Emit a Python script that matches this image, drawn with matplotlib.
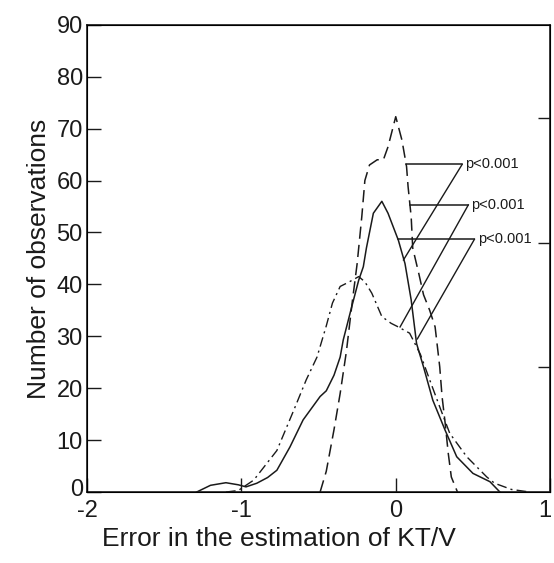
import numpy as np
import matplotlib
matplotlib.use('Agg')
import matplotlib.pyplot as plt
import matplotlib.transforms as mtransforms

plt.rcParams['font.family'] = ['Liberation Sans', 'DejaVu Sans']
plt.rcParams['axes.unicode_minus'] = False

# solid curve
solid_x = [-1.29, -1.20, -1.10, -1.02, -0.97, -0.90, -0.83, -0.77, -0.685, -0.60, -0.49, -0.45,
           -0.40, -0.36, -0.34, -0.285, -0.24, -0.21, -0.19, -0.145, -0.09, -0.05, 0.017, 0.06,
           0.10, 0.135, 0.18, 0.24, 0.32, 0.395, 0.50, 0.61, 0.675]
solid_y = [0, 1.3, 1.8, 1.4, 1.0, 1.7, 2.8, 4.2, 8.7, 13.9, 18.4, 19.5,
           22.5, 26, 29.3, 35.7, 40.8, 43.4, 47, 53.7, 56, 53.7, 48.5, 44,
           37, 28.6, 24.1, 17.7, 11.9, 6.8, 3.6, 2.0, 0]

# dashed curve
dash_x = [-0.49, -0.45, -0.40, -0.36, -0.32, -0.28, -0.25, -0.22, -0.20, -0.17, -0.12, -0.08,
          -0.05, 0.0, 0.04, 0.07, 0.08, 0.10, 0.11, 0.15, 0.18, 0.22, 0.255, 0.285, 0.30,
          0.32, 0.34, 0.36, 0.40]
dash_y = [0, 4, 12, 19, 27, 37, 44, 53, 60, 63, 64, 64,
          66.5, 72.3, 67.8, 62.7, 58.8, 53, 47, 42, 38, 35, 31.8, 24.1, 18.4,
          13.3, 7.5, 2.9, 0]

# dash-dot curve
dd_x = [-1.10, -1.02, -0.92, -0.77, -0.66, -0.58, -0.51, -0.45, -0.41, -0.36, -0.30, -0.24,
        -0.20, -0.155, -0.09, -0.03, 0.01, 0.09, 0.16, 0.22, 0.285, 0.35, 0.46, 0.59, 0.64,
        0.75, 0.87]
dd_y = [0, 0.3, 2.3, 8, 15.8, 21.6, 26, 32, 36.4, 39.6, 40.5, 41.5,
        40.5, 38.3, 33.8, 32.5, 31.9, 30.6, 26.5, 21.6, 16.4, 11.3, 6.8, 2.9, 1.7,
        0.5, 0]

# p-value annotations: horizontal bar y, bar start x, bar end x, pointer tip
ann_labels = ['p<0.001', 'p<0.001', 'p<0.001']
ann_y = [63.1, 55.3, 48.7]
ann_x0 = [0.067, 0.093, 0.017]
ann_x1 = [0.43, 0.47, 0.51]
ann_tip_x = [0.05, 0.028, 0.14]
ann_tip_y = [44.7, 31.8, 29.5]

x_ticks = [-2, -1, 0, 1]
y_ticks = [0, 10, 20, 30, 40, 50, 60, 70, 80, 90]
right_ticks = [24, 48, 72]

fig = plt.figure(figsize=(5.54, 5.63), dpi=100)
ax = fig.add_axes([0.157, 0.126, 0.836, 0.830])

ink = '#1a1a1a'
ax.plot(solid_x, solid_y, color=ink, lw=1.1, ls='-')
ax.plot(dash_x, dash_y, color=ink, lw=1.1, ls=(0, (8, 4)))
ax.plot(dd_x, dd_y, color=ink, lw=1.0, ls=(0, (7, 3, 1.5, 3)))

for lab, y, x0, x1, tx, ty in zip(ann_labels, ann_y, ann_x0, ann_x1, ann_tip_x, ann_tip_y):
    ax.plot([x0, x1], [y, y], color=ink, lw=1.1)
    ax.plot([x1, tx], [y, ty], color=ink, lw=1.0)
    ax.text(x1 + 0.02, y, lab, fontsize=10.5, va='center', ha='left', color=ink)

ax.set_xlim(-2, 1)
ax.set_ylim(0, 90)
ax.set_xticks(x_ticks)
ax.set_yticks(y_ticks)
ax.tick_params(direction='in', length=10, width=1.0, labelsize=17, pad=3, colors=ink)
ax.tick_params(axis='x', pad=6)
for s in ax.spines.values():
    s.set_linewidth(1.2)
    s.set_color(ink)

# the zero label sits a little above the axis in the original
lbl0 = ax.get_yticklabels()[0]
lbl0.set_transform(lbl0.get_transform() + mtransforms.ScaledTranslation(0, 5 / 100, fig.dpi_scale_trans))
# keep the last x label inside the figure
lbl1 = ax.get_xticklabels()[-1]
lbl1.set_transform(lbl1.get_transform() + mtransforms.ScaledTranslation(-5 / 100, 0, fig.dpi_scale_trans))

ax2 = ax.twinx()
ax2.set_ylim(0, 90)
ax2.set_yticks(right_ticks)
ax2.set_yticklabels([])
ax2.tick_params(direction='in', length=9, width=1.0, colors=ink)

ax.set_xlabel('Error in the estimation of KT/V', fontsize=19, labelpad=6, color=ink)
ax.xaxis.set_label_coords(0.415, -0.075)
ax.set_ylabel('Number of observations', fontsize=19, labelpad=4, color=ink)

fig.savefig('out.png', dpi=100)
